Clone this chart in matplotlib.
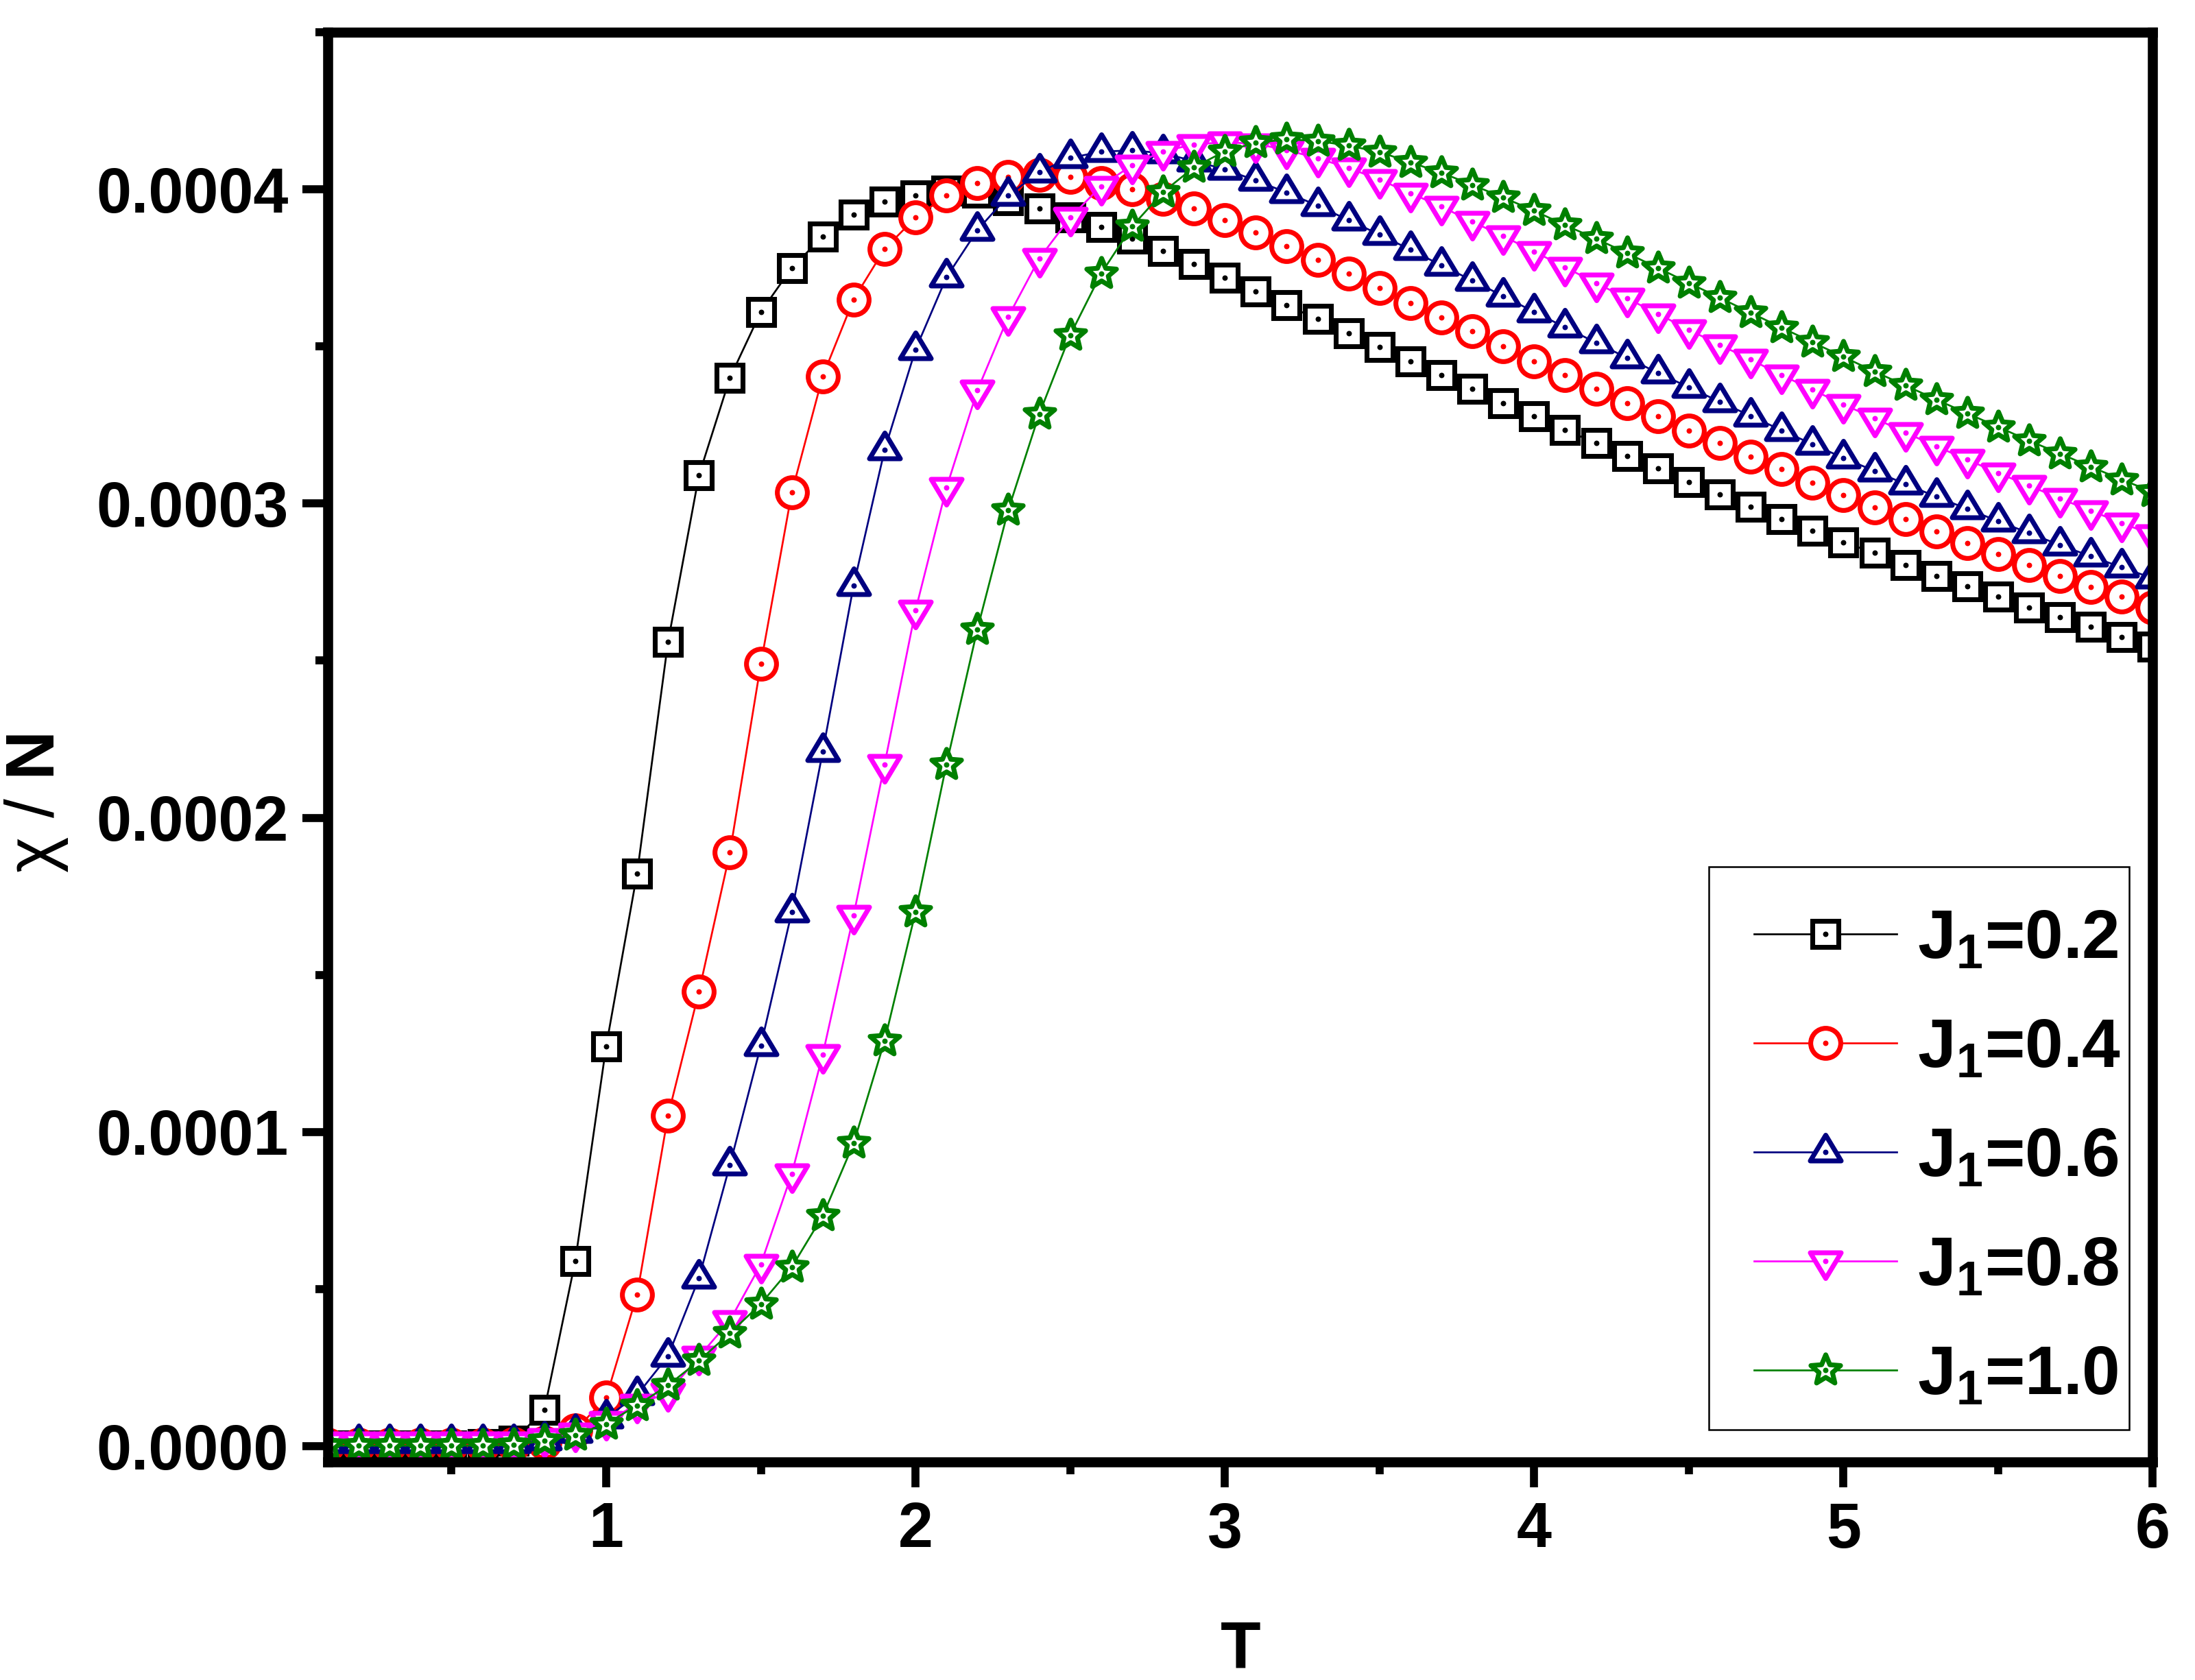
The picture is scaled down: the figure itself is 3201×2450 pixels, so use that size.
import numpy as np
import matplotlib
matplotlib.use('Agg')
import matplotlib.pyplot as plt
from matplotlib.path import Path
from matplotlib.markers import MarkerStyle
from matplotlib.patches import Rectangle
from matplotlib.legend_handler import HandlerTuple
from matplotlib.ticker import MultipleLocator, FixedLocator, FormatStrFormatter

plt.rcParams['font.family'] = ['Liberation Sans', 'DejaVu Sans']
plt.rcParams['mathtext.fontset'] = 'custom'
plt.rcParams['mathtext.rm'] = 'Liberation Sans'
plt.rcParams['mathtext.it'] = 'Liberation Sans:italic'
plt.rcParams['mathtext.bf'] = 'Liberation Sans:bold'

# ---------------- data (chi/N in units of 1e-4) ----------------
T = [0.1, 0.2, 0.3, 0.4, 0.5, 0.6, 0.7, 0.8, 0.9, 1.0,
     1.1, 1.2, 1.3, 1.4, 1.5, 1.6, 1.7, 1.8, 1.9, 2.0,
     2.1, 2.2, 2.3, 2.4, 2.5, 2.6, 2.7, 2.8, 2.9, 3.0,
     3.1, 3.2, 3.3, 3.4, 3.5, 3.6, 3.7, 3.8, 3.9, 4.0,
     4.1, 4.2, 4.3, 4.4, 4.5, 4.6, 4.7, 4.8, 4.9, 5.0,
     5.1, 5.2, 5.3, 5.4, 5.5, 5.6, 5.7, 5.8, 5.9, 6.0]

chi_J02 = [0.003, 0.003, 0.003, 0.003, 0.003, 0.006, 0.018, 0.115, 0.589, 1.273,
           1.823, 2.56, 3.09, 3.40, 3.61, 3.75, 3.85, 3.92, 3.96, 3.98,
           3.995, 3.99, 3.965, 3.94, 3.91, 3.88, 3.843, 3.804, 3.762, 3.718,
           3.675, 3.631, 3.587, 3.542, 3.498, 3.452, 3.408, 3.365, 3.320, 3.278,
           3.234, 3.193, 3.152, 3.111, 3.069, 3.029, 2.990, 2.951, 2.914, 2.877,
           2.843, 2.805, 2.770, 2.737, 2.703, 2.670, 2.639, 2.607, 2.576, 2.545]

chi_J04 = [0.004, 0.004, 0.004, 0.004, 0.004, 0.004, 0.006, 0.012, 0.05, 0.155,
           0.483, 1.052, 1.447, 1.889, 2.49, 3.035, 3.405, 3.65, 3.81, 3.91,
           3.98, 4.02, 4.04, 4.045, 4.04, 4.02, 4.00, 3.97, 3.939, 3.902,
           3.862, 3.819, 3.775, 3.732, 3.686, 3.639, 3.593, 3.548, 3.500, 3.453,
           3.408, 3.365, 3.319, 3.277, 3.233, 3.192, 3.150, 3.110, 3.067, 3.027,
           2.988, 2.950, 2.912, 2.875, 2.840, 2.805, 2.770, 2.735, 2.703, 2.670]

chi_J06 = [0.011, 0.011, 0.011, 0.011, 0.011, 0.011, 0.011, 0.02, 0.044, 0.09,
           0.163, 0.287, 0.535, 0.895, 1.275, 1.70, 2.21, 2.74, 3.17, 3.49,
           3.72, 3.87, 3.98, 4.055, 4.10, 4.12, 4.124, 4.115, 4.09, 4.064,
           4.028, 3.990, 3.948, 3.902, 3.856, 3.808, 3.758, 3.710, 3.660, 3.610,
           3.561, 3.512, 3.464, 3.416, 3.370, 3.324, 3.279, 3.233, 3.189, 3.145,
           3.104, 3.062, 3.022, 2.983, 2.944, 2.906, 2.868, 2.832, 2.797, 2.762]

chi_J08 = [0.013, 0.013, 0.013, 0.013, 0.013, 0.013, 0.013, 0.024, 0.042, 0.079,
           0.133, 0.17, 0.285, 0.40, 0.579, 0.867, 1.246, 1.69, 2.17, 2.66,
           3.05, 3.36, 3.595, 3.78, 3.91, 4.01, 4.077, 4.121, 4.143, 4.15,
           4.145, 4.125, 4.099, 4.068, 4.031, 3.988, 3.945, 3.897, 3.851, 3.802,
           3.752, 3.702, 3.653, 3.604, 3.553, 3.505, 3.458, 3.409, 3.362, 3.315,
           3.272, 3.226, 3.182, 3.140, 3.097, 3.057, 3.016, 2.977, 2.938, 2.900]

chi_J10 = [0.002, 0.002, 0.002, 0.002, 0.002, 0.002, 0.004, 0.017, 0.036, 0.071,
           0.13, 0.194, 0.272, 0.360, 0.453, 0.570, 0.733, 0.964, 1.29, 1.70,
           2.17, 2.60, 2.98, 3.285, 3.536, 3.732, 3.882, 3.991, 4.070, 4.121,
           4.148, 4.159, 4.154, 4.139, 4.119, 4.086, 4.053, 4.014, 3.974, 3.932,
           3.886, 3.843, 3.797, 3.750, 3.702, 3.655, 3.607, 3.560, 3.513, 3.467,
           3.420, 3.376, 3.331, 3.287, 3.244, 3.200, 3.159, 3.117, 3.076, 3.037]

labels = [r'$\mathbf{J_1}$=0.2', r'$\mathbf{J_1}$=0.4', r'$\mathbf{J_1}$=0.6',
          r'$\mathbf{J_1}$=0.8', r'$\mathbf{J_1}$=1.0']
colors = ['#000000', '#FF0000', '#000080', '#FF00FF', '#008000']
UNIT = 1e-4

# ---------------- marker shapes ----------------
tri_up = Path([(0, 2/3), (-0.6, -1/3), (0.6, -1/3), (0, 2/3)],
              [Path.MOVETO, Path.LINETO, Path.LINETO, Path.CLOSEPOLY])
tri_dn = Path([(0, -2/3), (-0.6, 1/3), (0.6, 1/3), (0, -2/3)],
              [Path.MOVETO, Path.LINETO, Path.LINETO, Path.CLOSEPOLY])
star_v = []
for k in range(10):
    ang = np.pi / 2 + k * np.pi / 5
    r = 1.0 if k % 2 == 0 else 0.45
    star_v.append((r * np.cos(ang), r * np.sin(ang)))
star_v.append(star_v[0])
star = Path(star_v, [Path.MOVETO] + [Path.LINETO] * 9 + [Path.CLOSEPOLY])

markers = [MarkerStyle('s', joinstyle='miter'), MarkerStyle('o'),
           MarkerStyle(tri_up, joinstyle='miter'), MarkerStyle(tri_dn, joinstyle='miter'),
           MarkerStyle(star, joinstyle='round')]
msizes = [9.3, 10.5, 12.0, 12.0, 10.9]

# ---------------- figure ----------------
W, H = 3201, 2450
fig = plt.figure(figsize=(W / 300, H / 300), dpi=300)
L, R, Bm, Tp = 478, 3139.5, 2132, 47
ax = fig.add_axes([L / W, 1 - Bm / H, (R - L) / W, (Bm - Tp) / H])

series = [chi_J02, chi_J04, chi_J06, chi_J08, chi_J10]
handles = []
for s, c, m, ms in zip(series, colors, markers, msizes):
    y = np.array(s) * UNIT
    ln, = ax.plot(T, y, color=c, lw=0.65, marker=m, ms=ms, mfc='white',
                  mec=c, mew=1.7)
    dt, = ax.plot(T, y, linestyle='none', marker='o', ms=1.9, color=c, mew=0)
    handles.append((ln, dt))

ax.set_xlim(0.1, 6.0)
ax.set_ylim(-0.000005, 0.00045)

ax.xaxis.set_major_locator(FixedLocator([1, 2, 3, 4, 5, 6]))
ax.xaxis.set_minor_locator(MultipleLocator(0.5))
ax.yaxis.set_major_locator(MultipleLocator(0.0001))
ax.yaxis.set_minor_locator(MultipleLocator(0.00005))
ax.yaxis.set_major_formatter(FormatStrFormatter('%.4f'))

for sp in ax.spines.values():
    sp.set_linewidth(3.5)
ax.tick_params(which='both', direction='out', top=False, right=False, width=2.8)
ax.tick_params(which='major', length=8.8, pad=5, labelsize=22)
ax.tick_params(which='minor', length=4.3)
for lab in ax.get_xticklabels() + ax.get_yticklabels():
    lab.set_fontweight('bold')

fig.text(1809 / W, 1 - 2433 / H, 'T', ha='center', va='baseline',
         fontsize=23, fontweight='bold')
fig.text(53 / W, 1 - 1171 / H, r'$\mathrm{\chi}$ / $\mathbf{N}$', rotation=90,
         ha='center', va='center', fontsize=24)

# legend frame (drawn inside the axes, under the legend entries)
frame = Rectangle((2492 / W, 1 - 2085 / H), (3105 - 2492) / W, (2085 - 1264) / H,
                  transform=fig.transFigure, facecolor='white',
                  edgecolor='black', linewidth=0.6, zorder=4, clip_on=False)
ax.add_patch(frame)
leg = ax.legend(handles, labels, handler_map={tuple: HandlerTuple(ndivide=1, pad=0)},
                loc='upper left', bbox_to_anchor=(2558 / W, 1 - 1324 / H),
                bbox_transform=fig.transFigure, borderaxespad=0, numpoints=1,
                prop={'family': 'Liberation Sans', 'weight': 'bold', 'size': 24},
                handlelength=2.08, handletextpad=0.3, labelspacing=0.65,
                borderpad=0, frameon=False)
leg.set_zorder(5)

fig.savefig('out.png', dpi=300)
